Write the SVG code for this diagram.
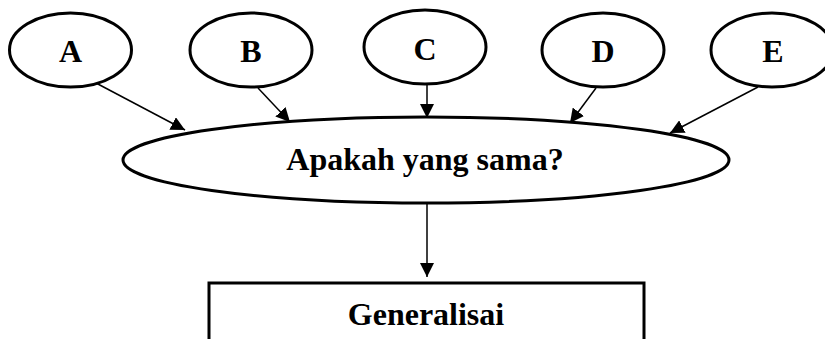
<svg xmlns="http://www.w3.org/2000/svg" width="825" height="339" viewBox="0 0 825 339">
<defs>
<marker id="ah" markerUnits="userSpaceOnUse" markerWidth="15" markerHeight="14" refX="14" refY="7" orient="auto">
<path d="M0,0 L14,7 L0,14 z" fill="#000"/>
</marker>
<style>
.n{fill:#fff;stroke:#000;stroke-width:3}
.t{font-family:"Liberation Serif","Times New Roman",serif;font-weight:bold;font-size:32px;text-anchor:middle;fill:#000}
.c{stroke:#000;stroke-width:1.5;fill:none;marker-end:url(#ah)}
</style>
</defs>
<rect width="825" height="339" fill="#fff"/>
<g id="connectors">
<line class="c" x1="96" y1="83" x2="185" y2="130"/>
<line class="c" x1="258" y1="88" x2="290" y2="122"/>
<line class="c" x1="427" y1="83" x2="427" y2="118"/>
<line class="c" x1="596" y1="88" x2="570" y2="123"/>
<line class="c" x1="758" y1="87" x2="670" y2="133"/>
<line class="c" x1="427" y1="203" x2="427" y2="277"/>
</g>
<g id="A"><ellipse class="n" cx="70.5" cy="50" rx="61" ry="37"/><text class="t" x="70.5" y="62">A</text></g>
<g id="B"><ellipse class="n" cx="251" cy="50" rx="61" ry="37"/><text class="t" x="251" y="62">B</text></g>
<g id="C"><ellipse class="n" cx="425" cy="47" rx="61" ry="37"/><text class="t" x="425" y="60">C</text></g>
<g id="D"><ellipse class="n" cx="603" cy="50" rx="61" ry="37"/><text class="t" x="603" y="62">D</text></g>
<g id="E"><ellipse class="n" cx="772" cy="50" rx="61" ry="37"/><text class="t" x="773" y="62">E</text></g>
<g id="Q"><ellipse class="n" cx="426" cy="160" rx="303" ry="43"/><text class="t" x="425" y="170">Apakah yang sama?</text></g>
<g id="G"><rect class="n" x="209" y="283" width="435" height="80"/><text class="t" x="426" y="325">Generalisai</text></g>
</svg>
